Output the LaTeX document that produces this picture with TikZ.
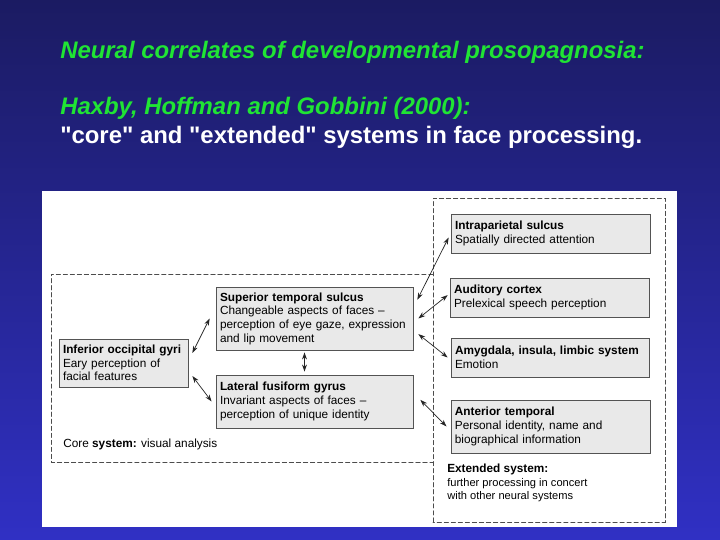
\documentclass[tikz,border=0pt]{standalone}
\usepackage{fontspec}
\setmainfont{Liberation Sans}
\usepackage{xcolor}
\usepackage{tikz}
\usetikzlibrary{arrows.meta,shadows}

\definecolor{bgtop}{RGB}{27,27,98}
\definecolor{bgbottom}{RGB}{48,48,196}
\definecolor{titlegreen}{RGB}{32,228,52}

\begin{document}
\begin{tikzpicture}[
  line cap=round,
  >={Stealth[length=5pt,width=3.4pt]},
  area/.style={gray!60!black,dash pattern=on 3pt off 2pt,line width=0.6pt},
  region/.style={draw=gray!65!black,fill=gray!17,line width=0.5pt,
    align=left,inner xsep=0.1cm,inner ysep=0pt,
    font=\fontsize{8.4}{9.7}\selectfont,
    drop shadow={shadow xshift=0.5pt,shadow yshift=-0.7pt,
      fill=gray!45!black,opacity=1}},
  link/.style={black!85,line width=0.5pt,<->},
  headline/.style={anchor=base west,inner sep=0pt,
    font=\fontsize{17}{20}\selectfont\bfseries}
]
\path[use as bounding box] (0,0) rectangle (18,13.5);
\shade[top color=bgtop,bottom color=bgbottom] (0,0) rectangle (18,13.5);

% title lines
\node[headline,titlegreen,font=\fontsize{17}{20}\selectfont\bfseries\itshape]
  (title) at (1.5,12.04) {Neural correlates of developmental prosopagnosia:};
\node[headline,titlegreen,font=\fontsize{17}{20}\selectfont\bfseries\itshape]
  (cite) at (1.5,10.625) {Haxby, Hoffman and Gobbini (2000):};
\node[headline,white] (subtitle) at (1.5,9.92)
  {\textquotedbl core\textquotedbl{} and \textquotedbl extended\textquotedbl{}
   systems in face processing.};

% figure panel
\fill[white] (1.05,0.325) rectangle (16.925,8.725);

\draw[area] (10.825,6.65) -- (1.275,6.65) -- (1.275,1.95) -- (10.825,1.95);
\draw[area] (10.825,0.45) rectangle (16.625,8.55);

% core system
\node[region,text width=3.025cm,minimum height=1.2cm] (iog) at (3.0875,4.425)
  {\textbf{Inferior occipital gyri}\\Eary perception of\\facial features};
\node[region,text width=4.725cm,minimum height=1.575cm] (sts) at (7.8625,5.5375)
  {\textbf{Superior temporal sulcus}\\Changeable aspects of faces --\\
   perception of eye gaze, expression\\and lip movement};
\node[region,text width=4.725cm,minimum height=1.325cm] (lfg) at (7.8625,3.4625)
  {\textbf{Lateral fusiform gyrus}\\Invariant aspects of faces --\\
   perception of unique identity};
\node[anchor=base west,inner sep=0pt,font=\fontsize{8.4}{9.7}\selectfont]
  (core) at (1.575,2.3) {Core \textbf{system:} visual analysis};

% extended system
\node[region,text width=4.775cm,minimum height=0.975cm] (ips) at (13.7625,7.6625)
  {\textbf{Intraparietal sulcus}\\Spatially directed attention};
\node[region,text width=4.775cm,minimum height=0.975cm] (aud) at (13.74,6.0625)
  {\textbf{Auditory cortex}\\Prelexical speech perception};
\node[region,text width=4.75cm,minimum height=0.975cm] (amy) at (13.75,4.5625)
  {\textbf{Amygdala, insula, limbic system}\\Emotion};
\node[region,text width=4.775cm,minimum height=1.325cm] (ant) at (13.76,2.8375)
  {\textbf{Anterior temporal}\\Personal identity, name and\\biographical information};
\node[anchor=north west,inner sep=0pt,align=left,font=\fontsize{7.9}{9.4}\selectfont]
  (extended) at (11.175,1.9)
  {\fontsize{8.4}{9.7}\selectfont\textbf{Extended system:}\\
   further processing in concert\\with other neural systems};

% connections
\draw[link] ([xshift=0.1cm,yshift=0.25cm]iog.east) -- ([xshift=-0.15cm]sts.west);
\draw[link] ([xshift=0.1cm,yshift=-0.325cm]iog.east) -- ([xshift=-0.1cm]lfg.west);
\draw[link] ([xshift=-0.25cm,yshift=-0.05cm]sts.south)
  -- ([xshift=-0.25cm,yshift=0.075cm]lfg.north);
\draw[link] ([xshift=0.1cm,yshift=-0.325cm]sts.north east)
  -- ([xshift=-0.05cm,yshift=-0.1cm]ips.west);
\draw[link] ([xshift=0.125cm]sts.east) -- ([xshift=-0.05cm,yshift=0.06cm]aud.west);
\draw[link] ([xshift=0.125cm,yshift=-0.39cm]sts.east) -- ([xshift=-0.075cm]amy.west);
\draw[link] ([xshift=0.175cm,yshift=0.04cm]lfg.east) -- ([xshift=-0.1cm]ant.west);
\end{tikzpicture}
\end{document}
